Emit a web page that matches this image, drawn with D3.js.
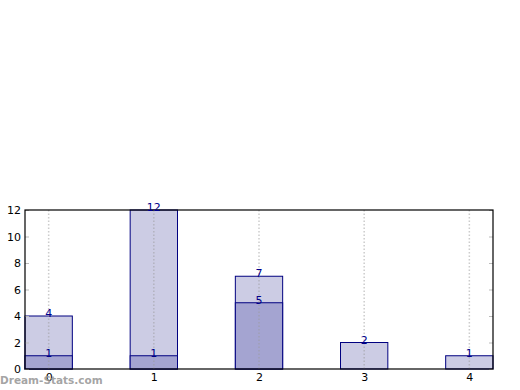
<!DOCTYPE html>
<html>
<head>
<meta charset="utf-8">
<script src="https://cdn.jsdelivr.net/npm/d3@7"></script>
<style>
body{margin:0;background:#fff;}
text{font-family:"DejaVu Sans",sans-serif;}
</style>
</head>
<body>
<div id="show"><svg></svg></div>
<script>
var categories = [0, 1, 2, 3, 4];
var totals = [4, 12, 7, 2, 1];
var subset = [1, 1, 5, 0, 0];
var yTicks = [0, 2, 4, 6, 8, 10, 12];

var W = 520, H = 390;
var pLeft = 25, pRight = 493, pTop = 210, pBottom = 369;
var barW = 0.45;

var svg = d3.select("#show").select("svg")
		.attr("width", W)
		.attr("height", H);

var x = d3.scaleLinear().domain([-barW/2, 4 + barW/2]).range([pLeft, pRight]);
var y = d3.scaleLinear().domain([0, 12]).range([pBottom, pTop]);

// total bars
svg.selectAll("rect.tot").data(categories).enter().append("rect")
		.attr("class", "tot")
		.attr("x", function(d){ return x(d - barW/2); })
		.attr("y", function(d, i){ return y(totals[i]); })
		.attr("width", x(barW) - x(0))
		.attr("height", function(d, i){ return y(0) - y(totals[i]); })
		.attr("fill", "#cccce4")
		.attr("stroke", "#000080")
		.attr("stroke-width", 1);

// subset bars
svg.selectAll("rect.sub").data(categories.filter(function(d, i){ return subset[i] > 0; })).enter().append("rect")
		.attr("class", "sub")
		.attr("x", function(d){ return x(d - barW/2); })
		.attr("y", function(d){ return y(subset[d]); })
		.attr("width", x(barW) - x(0))
		.attr("height", function(d){ return y(0) - y(subset[d]); })
		.attr("fill", "#a4a4d1")
		.attr("stroke", "#000080")
		.attr("stroke-width", 1);

// grid lines
svg.selectAll("line.grid").data(categories).enter().append("line")
		.attr("x1", function(d){ return x(d); })
		.attr("x2", function(d){ return x(d); })
		.attr("y1", pTop)
		.attr("y2", pBottom)
		.attr("stroke", "#999")
		.attr("stroke-opacity", 0.5)
		.attr("stroke-width", 1.5)
		.attr("stroke-dasharray", "1.5,2");

// y axis ticks + labels
var yAxis = d3.axisLeft(y).tickValues(yTicks).tickSize(-4).tickPadding(4);
var ga = svg.append("g").attr("transform", "translate(" + pLeft + ",0)").call(yAxis);
ga.select(".domain").remove();
ga.selectAll("line").attr("stroke", "#bbb");
ga.selectAll("text").attr("font-size", 11).attr("fill", "#000").attr("font-family", "DejaVu Sans");

var yAxisR = d3.axisRight(y).tickValues(yTicks).tickSize(-4).tickFormat("");
var gr = svg.append("g").attr("transform", "translate(" + pRight + ",0)").call(yAxisR);
gr.select(".domain").remove();
gr.selectAll("line").attr("stroke", "#bbb");

// x tick labels
var xAxis = d3.axisBottom(x).tickValues(categories).tickSize(0).tickPadding(4).tickFormat(d3.format("d"));
var gx = svg.append("g").attr("transform", "translate(0," + pBottom + ")").call(xAxis);
gx.select(".domain").remove();
gx.selectAll("text").attr("font-size", 11).attr("fill", "#000").attr("font-family", "DejaVu Sans");

// frame
svg.append("rect")
		.attr("x", pLeft).attr("y", pTop)
		.attr("width", pRight - pLeft).attr("height", pBottom - pTop)
		.attr("fill", "none").attr("stroke", "#000").attr("stroke-width", 1.2);

// value labels
svg.selectAll("text.tl").data(categories).enter().append("text")
		.attr("class", "tl")
		.attr("x", function(d){ return x(d); })
		.attr("y", function(d, i){ return y(totals[i]) + 1; })
		.attr("text-anchor", "middle")
		.attr("font-size", 11)
		.attr("fill", "#00008b")
		.text(function(d, i){ return totals[i]; });

svg.selectAll("text.sl").data(categories.filter(function(d, i){ return subset[i] > 0; })).enter().append("text")
		.attr("class", "sl")
		.attr("x", function(d){ return x(d); })
		.attr("y", function(d){ return y(subset[d]) + 1; })
		.attr("text-anchor", "middle")
		.attr("font-size", 11)
		.attr("fill", "#00008b")
		.text(function(d){ return subset[d]; });

// watermark
svg.append("text")
		.attr("x", 0).attr("y", 384)
		.attr("font-size", 10.5)
		.attr("font-weight", "bold")
		.attr("fill", "#999")
		.attr("fill-opacity", 0.9)
		.text("Dream-Stats.com");
</script>
</body>
</html>
